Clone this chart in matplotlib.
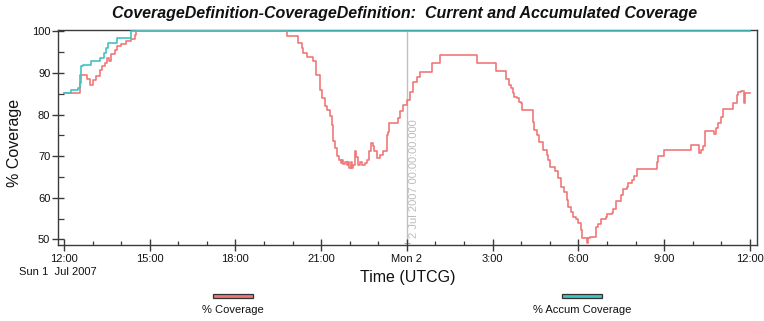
import matplotlib
matplotlib.use("Agg")
import matplotlib.pyplot as plt
from matplotlib.patches import Rectangle
from matplotlib.ticker import MultipleLocator, FixedLocator

plt.rcParams['font.family'] = ['Liberation Sans', 'DejaVu Sans']

# Hours elapsed since Sun 1 Jul 2007 12:00 UTCG
coverage_hours = [0.00, 0.55, 0.79, 0.91, 1.01, 1.13, 1.25, 1.33, 1.42, 1.52, 1.59, 1.65,
                  1.77, 1.86, 2.00, 2.18, 2.35, 2.49, 2.53,
                  7.79, 8.20, 8.32, 8.37, 8.49, 8.72, 8.81, 8.96, 9.02, 9.13, 9.21, 9.31,
                  9.37, 9.42, 9.48, 9.54, 9.62, 9.68, 9.73, 9.78, 9.83, 9.91, 9.95, 9.98,
                  10.03, 10.07, 10.10, 10.18, 10.22, 10.30, 10.36, 10.42, 10.53, 10.59,
                  10.67, 10.74, 10.80, 10.86, 10.96, 11.06, 11.17, 11.29, 11.34, 11.38,
                  11.70, 11.76, 11.87, 11.99, 12.11, 12.22, 12.34, 12.46, 12.87, 13.16,
                  14.44, 15.13, 15.48, 15.58, 15.66, 15.72, 15.75, 15.84, 15.93, 15.98,
                  16.03, 16.40, 16.45, 16.54, 16.63, 16.75, 16.89, 16.95, 17.00, 17.18,
                  17.30, 17.41, 17.49, 17.59, 17.65, 17.73, 17.82, 17.91, 18.00, 18.08,
                  18.11, 18.29, 18.34, 18.40, 18.61, 18.70, 18.78, 18.96, 19.01, 19.16,
                  19.22, 19.31, 19.48, 19.57, 19.69, 19.74, 19.86, 19.94, 20.04, 20.74,
                  20.79, 20.99, 21.93, 22.23, 22.28, 22.35, 22.43, 22.74, 22.81, 22.89,
                  22.98, 23.07, 23.40, 23.54, 23.59, 23.68, 23.79, 23.84, 23.91, 24.00]
coverage_pct = [85.2, 89.6, 88.5, 87.2, 88.4, 89.2, 90.8, 91.6, 92.4, 93.6, 93.0, 94.6,
                95.6, 96.4, 97.0, 97.6, 98.3, 99.2, 100.0,
                98.8, 97.2, 96.0, 94.8, 93.8, 92.8, 89.6, 86.0, 84.0, 82.0, 81.2, 79.6,
                77.6, 73.6, 72.0, 70.0, 69.1, 68.3, 69.0, 68.0, 68.7, 67.9, 68.6, 67.1,
                68.5, 67.1, 67.9, 71.2, 69.8, 67.9, 68.6, 67.9, 68.3, 69.0,
                71.2, 73.2, 72.4, 71.2, 69.6, 70.4, 71.2, 75.2, 75.8, 77.9,
                79.2, 80.8, 82.4, 83.5, 85.5, 87.9, 89.0, 90.3, 92.3, 94.3,
                92.4, 90.4, 88.5, 87.1, 86.3, 85.3, 84.3, 83.9, 83.1, 82.7,
                81.1, 78.3, 76.3, 75.1, 73.5, 71.5, 70.3, 69.1, 67.4, 66.4,
                64.7, 62.6, 61.4, 59.4, 57.8, 56.6, 55.4, 55.0, 53.8, 52.2,
                50.2, 49.2, 50.2, 50.5, 53.0, 53.7, 55.0, 55.3, 56.2, 56.4,
                57.4, 59.3, 60.6, 62.0, 62.6, 63.5, 64.3, 65.2, 66.8, 68.7,
                70.0, 71.5, 72.7, 70.7, 71.5, 72.5, 76.1, 75.3, 76.7, 77.9,
                79.5, 81.3, 82.7, 84.7, 85.5, 85.8, 82.9, 85.1, 85.3, 85.3]

accum_hours = [0.00, 0.23, 0.49, 0.55, 0.58, 0.66, 0.96, 1.25, 1.40, 1.48, 1.54, 1.86, 2.35, 24.00]
accum_pct = [85.2, 85.9, 86.4, 87.5, 91.6, 92.0, 92.8, 93.6, 94.8, 96.0, 97.2, 98.4, 100.0, 100.0]

tick_hours = [0, 3, 6, 9, 12, 15, 18, 21, 24]
tick_labels = ["12:00", "15:00", "18:00", "21:00", "Mon 2", "3:00", "6:00", "9:00", "12:00"]
y_ticks = [50, 60, 70, 80, 90, 100]

RED = "#F07878"
TEAL = "#40C4C4"
FRAME = "#3a3a3a"
INK = "#111111"

fig = plt.figure(figsize=(7.64, 3.21), dpi=100)
ax = fig.add_axes([0.0763, 0.2358, 0.9141, 0.6692])

# Day-boundary marker
ax.axvline(12, color="#c0c0c0", lw=1.0, zorder=1)
ax.text(12.07, 50.3, "2 Jul 2007 00:00:00.000", rotation=90, color="#bdbdbd",
        fontsize=8, ha="left", va="bottom", zorder=1)
ax.plot([12], [49.2], marker="+", color="#b0b0b0", ms=4, mew=0.8, zorder=1, clip_on=False)

ax.plot(coverage_hours, coverage_pct, drawstyle="steps-post", color=RED, lw=1.2, zorder=3)
ax.plot(accum_hours, accum_pct, drawstyle="steps-post", color=TEAL, lw=1.2, zorder=4)

ax.set_xlim(-0.20, 24.24)
ax.set_ylim(48.55, 100.24)

for s in ax.spines.values():
    s.set_color(FRAME)
    s.set_linewidth(1.0)

ax.xaxis.set_major_locator(FixedLocator(tick_hours))
ax.set_xticklabels(tick_labels)
ax.xaxis.set_minor_locator(MultipleLocator(1))
ax.yaxis.set_major_locator(FixedLocator(y_ticks))
ax.yaxis.set_minor_locator(MultipleLocator(5))

ax.tick_params(axis="both", which="major", direction="inout", length=8.5, width=1.0,
               color=FRAME, labelsize=8, labelcolor=INK)
ax.tick_params(axis="x", which="major", pad=2.2)
ax.tick_params(axis="y", which="major", pad=1.5)
ax.tick_params(axis="x", which="minor", direction="in", length=2.6, width=0.9, color=FRAME)
ax.tick_params(axis="y", which="minor", direction="in", length=4.0, width=0.9, color=FRAME)

ax.text(0.0, -0.124, "Sun 1  Jul 2007", transform=ax.transAxes, ha="center", va="center",
        fontsize=8, color=INK)
ax.text(0.5, -0.150, "Time (UTCG)", transform=ax.transAxes, ha="center", va="center",
        fontsize=11.5, color=INK)
fig.text(0.0196, 0.556, "% Coverage", rotation=90, ha="center", va="center",
         fontsize=11.5, color=INK)

fig.text(0.529, 0.958, "CoverageDefinition-CoverageDefinition:  Current and Accumulated Coverage",
         ha="center", va="center", fontsize=11.5, fontweight="bold", fontstyle="italic",
         color=INK)

# Legend entries below the axes
for frac, color, label in [(0.25, RED, "% Coverage"), (0.75, TEAL, "% Accum Coverage")]:
    ax.add_patch(Rectangle((frac - 0.029, -0.245), 0.058, 0.0186, transform=ax.transAxes,
                           facecolor=color, edgecolor="#333333", lw=0.9, clip_on=False))
    ax.text(frac, -0.301, label, transform=ax.transAxes, ha="center", va="center",
            fontsize=8, color=INK)

fig.savefig("out.png", dpi=100)
